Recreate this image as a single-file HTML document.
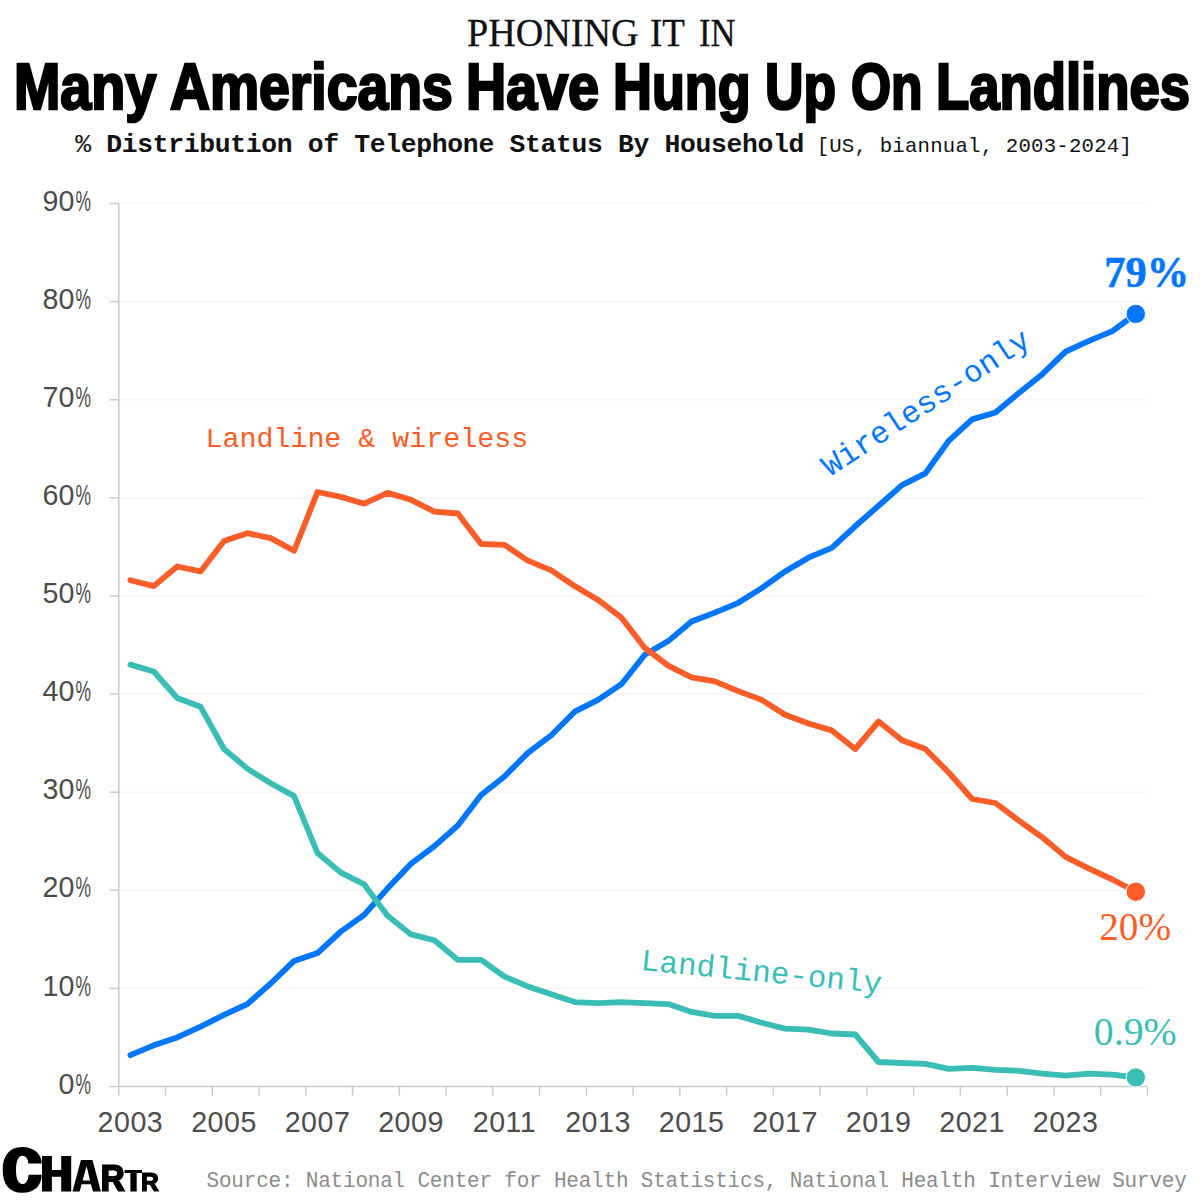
<!DOCTYPE html>
<html><head><meta charset="utf-8">
<style>
html,body{margin:0;padding:0;background:#fff;}
body{width:1200px;height:1200px;position:relative;overflow:hidden;font-family:"Liberation Sans",sans-serif;}
.kicker span{position:absolute;top:-7.4px;font-family:"Liberation Serif",serif;font-size:39.5px;line-height:80px;color:#111;white-space:nowrap;transform-origin:0 0;-webkit-text-stroke:0.3px #111;}
.title span{position:absolute;top:46.8px;font-family:"Liberation Sans",sans-serif;font-weight:bold;font-size:64px;line-height:80px;color:#000;white-space:nowrap;transform-origin:0 0;-webkit-text-stroke:2.6px #000;}
.sub{position:absolute;left:75.2px;top:129.8px;font-family:"Liberation Mono",monospace;font-size:20.7px;letter-spacing:0.2px;line-height:30px;color:#111;white-space:nowrap;}
.sub b{font-size:26.4px;letter-spacing:-0.33px;}
.src{position:absolute;left:206.5px;top:1167.4px;font-family:"Liberation Mono",monospace;font-size:21px;line-height:30px;color:#8c8c8c;white-space:nowrap;letter-spacing:-0.195px;transform-origin:0 22px;transform:scaleY(1.09);}
svg{position:absolute;left:0;top:0;}
.ax{font-family:"Liberation Sans",sans-serif;font-size:28.6px;fill:#4c4c4c;}
.mono{font-family:"Liberation Mono",monospace;font-size:28.3px;}
.ser{font-family:"Liberation Serif",serif;}
</style></head><body>
<div class="kicker"><span style="left:467.03px;transform:scaleX(0.9657)">PHONING</span> <span style="left:650.31px;transform:scaleX(0.9375)">IT</span> <span style="left:699.12px;transform:scaleX(0.875)">IN</span></div>
<div class="title"><span style="left:14.09px;transform:scaleX(0.8698)">Many</span> <span style="left:170.4px;transform:scaleX(0.8638)">Americans</span> <span style="left:466.39px;transform:scaleX(0.8698)">Have</span> <span style="left:613.47px;transform:scaleX(0.8418)">Hung</span> <span style="left:764.5px;transform:scaleX(0.8321)">Up</span> <span style="left:850.8px;transform:scaleX(0.8047)">On</span> <span style="left:936.45px;transform:scaleX(0.8503)">Landlines</span></div>
<div class="sub"><b><span style="font-weight:normal">%</span> Distribution of Telephone Status By Household</b> [US, biannual, 2003-2024]</div>
<svg width="1200" height="1200" viewBox="0 0 1200 1200">
<line x1="109.75" y1="1086.50" x2="118.75" y2="1086.50" stroke="#cacaca" stroke-width="1.5"/>
<line x1="118.75" y1="988.39" x2="1147.5" y2="988.39" stroke="#f5f5f5" stroke-width="1.3"/>
<line x1="109.75" y1="988.39" x2="118.75" y2="988.39" stroke="#cacaca" stroke-width="1.5"/>
<line x1="118.75" y1="890.28" x2="1147.5" y2="890.28" stroke="#f5f5f5" stroke-width="1.3"/>
<line x1="109.75" y1="890.28" x2="118.75" y2="890.28" stroke="#cacaca" stroke-width="1.5"/>
<line x1="118.75" y1="792.17" x2="1147.5" y2="792.17" stroke="#f5f5f5" stroke-width="1.3"/>
<line x1="109.75" y1="792.17" x2="118.75" y2="792.17" stroke="#cacaca" stroke-width="1.5"/>
<line x1="118.75" y1="694.06" x2="1147.5" y2="694.06" stroke="#f5f5f5" stroke-width="1.3"/>
<line x1="109.75" y1="694.06" x2="118.75" y2="694.06" stroke="#cacaca" stroke-width="1.5"/>
<line x1="118.75" y1="595.95" x2="1147.5" y2="595.95" stroke="#f5f5f5" stroke-width="1.3"/>
<line x1="109.75" y1="595.95" x2="118.75" y2="595.95" stroke="#cacaca" stroke-width="1.5"/>
<line x1="118.75" y1="497.84" x2="1147.5" y2="497.84" stroke="#f5f5f5" stroke-width="1.3"/>
<line x1="109.75" y1="497.84" x2="118.75" y2="497.84" stroke="#cacaca" stroke-width="1.5"/>
<line x1="118.75" y1="399.73" x2="1147.5" y2="399.73" stroke="#f5f5f5" stroke-width="1.3"/>
<line x1="109.75" y1="399.73" x2="118.75" y2="399.73" stroke="#cacaca" stroke-width="1.5"/>
<line x1="118.75" y1="301.62" x2="1147.5" y2="301.62" stroke="#f5f5f5" stroke-width="1.3"/>
<line x1="109.75" y1="301.62" x2="118.75" y2="301.62" stroke="#cacaca" stroke-width="1.5"/>
<line x1="118.75" y1="203.51" x2="1147.5" y2="203.51" stroke="#f5f5f5" stroke-width="1.3"/>
<line x1="109.75" y1="203.51" x2="118.75" y2="203.51" stroke="#cacaca" stroke-width="1.5"/>

<line x1="118.75" y1="203.51" x2="118.75" y2="1086.5" stroke="#cacaca" stroke-width="1.5"/>
<line x1="118.75" y1="1086.5" x2="1147.5" y2="1086.5" stroke="#cacaca" stroke-width="1.5"/>
<line x1="118.75" y1="1086.5" x2="118.75" y2="1095.5" stroke="#cacaca" stroke-width="1.5"/>
<line x1="165.51" y1="1086.5" x2="165.51" y2="1095.5" stroke="#cacaca" stroke-width="1.5"/>
<line x1="212.27" y1="1086.5" x2="212.27" y2="1095.5" stroke="#cacaca" stroke-width="1.5"/>
<line x1="259.03" y1="1086.5" x2="259.03" y2="1095.5" stroke="#cacaca" stroke-width="1.5"/>
<line x1="305.79" y1="1086.5" x2="305.79" y2="1095.5" stroke="#cacaca" stroke-width="1.5"/>
<line x1="352.55" y1="1086.5" x2="352.55" y2="1095.5" stroke="#cacaca" stroke-width="1.5"/>
<line x1="399.31" y1="1086.5" x2="399.31" y2="1095.5" stroke="#cacaca" stroke-width="1.5"/>
<line x1="446.07" y1="1086.5" x2="446.07" y2="1095.5" stroke="#cacaca" stroke-width="1.5"/>
<line x1="492.83" y1="1086.5" x2="492.83" y2="1095.5" stroke="#cacaca" stroke-width="1.5"/>
<line x1="539.59" y1="1086.5" x2="539.59" y2="1095.5" stroke="#cacaca" stroke-width="1.5"/>
<line x1="586.35" y1="1086.5" x2="586.35" y2="1095.5" stroke="#cacaca" stroke-width="1.5"/>
<line x1="633.11" y1="1086.5" x2="633.11" y2="1095.5" stroke="#cacaca" stroke-width="1.5"/>
<line x1="679.87" y1="1086.5" x2="679.87" y2="1095.5" stroke="#cacaca" stroke-width="1.5"/>
<line x1="726.63" y1="1086.5" x2="726.63" y2="1095.5" stroke="#cacaca" stroke-width="1.5"/>
<line x1="773.39" y1="1086.5" x2="773.39" y2="1095.5" stroke="#cacaca" stroke-width="1.5"/>
<line x1="820.15" y1="1086.5" x2="820.15" y2="1095.5" stroke="#cacaca" stroke-width="1.5"/>
<line x1="866.91" y1="1086.5" x2="866.91" y2="1095.5" stroke="#cacaca" stroke-width="1.5"/>
<line x1="913.67" y1="1086.5" x2="913.67" y2="1095.5" stroke="#cacaca" stroke-width="1.5"/>
<line x1="960.43" y1="1086.5" x2="960.43" y2="1095.5" stroke="#cacaca" stroke-width="1.5"/>
<line x1="1007.19" y1="1086.5" x2="1007.19" y2="1095.5" stroke="#cacaca" stroke-width="1.5"/>
<line x1="1053.95" y1="1086.5" x2="1053.95" y2="1095.5" stroke="#cacaca" stroke-width="1.5"/>
<line x1="1100.71" y1="1086.5" x2="1100.71" y2="1095.5" stroke="#cacaca" stroke-width="1.5"/>
<line x1="1147.47" y1="1086.5" x2="1147.47" y2="1095.5" stroke="#cacaca" stroke-width="1.5"/>

<text x="74.4" y="1093.6" text-anchor="end" class="ax">0</text><text transform="translate(75.6,1093.6) scale(0.61,1)" class="ax">%</text>
<text x="74.4" y="995.5" text-anchor="end" class="ax">10</text><text transform="translate(75.6,995.5) scale(0.61,1)" class="ax">%</text>
<text x="74.4" y="897.4" text-anchor="end" class="ax">20</text><text transform="translate(75.6,897.4) scale(0.61,1)" class="ax">%</text>
<text x="74.4" y="799.3" text-anchor="end" class="ax">30</text><text transform="translate(75.6,799.3) scale(0.61,1)" class="ax">%</text>
<text x="74.4" y="701.2" text-anchor="end" class="ax">40</text><text transform="translate(75.6,701.2) scale(0.61,1)" class="ax">%</text>
<text x="74.4" y="603.1" text-anchor="end" class="ax">50</text><text transform="translate(75.6,603.1) scale(0.61,1)" class="ax">%</text>
<text x="74.4" y="504.9" text-anchor="end" class="ax">60</text><text transform="translate(75.6,504.9) scale(0.61,1)" class="ax">%</text>
<text x="74.4" y="406.8" text-anchor="end" class="ax">70</text><text transform="translate(75.6,406.8) scale(0.61,1)" class="ax">%</text>
<text x="74.4" y="308.7" text-anchor="end" class="ax">80</text><text transform="translate(75.6,308.7) scale(0.61,1)" class="ax">%</text>
<text x="74.4" y="210.6" text-anchor="end" class="ax">90</text><text transform="translate(75.6,210.6) scale(0.61,1)" class="ax">%</text>

<text x="130.4" y="1131.8" text-anchor="middle" class="ax" letter-spacing="0.5">2003</text>
<text x="224.0" y="1131.8" text-anchor="middle" class="ax" letter-spacing="0.5">2005</text>
<text x="317.5" y="1131.8" text-anchor="middle" class="ax" letter-spacing="0.5">2007</text>
<text x="411.0" y="1131.8" text-anchor="middle" class="ax" letter-spacing="0.5">2009</text>
<text x="504.5" y="1131.8" text-anchor="middle" class="ax" letter-spacing="0.5">2011</text>
<text x="598.0" y="1131.8" text-anchor="middle" class="ax" letter-spacing="0.5">2013</text>
<text x="691.6" y="1131.8" text-anchor="middle" class="ax" letter-spacing="0.5">2015</text>
<text x="785.1" y="1131.8" text-anchor="middle" class="ax" letter-spacing="0.5">2017</text>
<text x="878.6" y="1131.8" text-anchor="middle" class="ax" letter-spacing="0.5">2019</text>
<text x="972.1" y="1131.8" text-anchor="middle" class="ax" letter-spacing="0.5">2021</text>
<text x="1065.6" y="1131.8" text-anchor="middle" class="ax" letter-spacing="0.5">2023</text>

<polyline points="130.4,1055.1 153.8,1045.3 177.2,1037.4 200.6,1026.7 224.0,1014.9 247.3,1004.1 270.7,983.5 294.1,960.9 317.5,953.1 340.9,931.5 364.2,914.8 387.6,888.3 411.0,863.8 434.4,846.1 457.8,825.5 481.1,795.1 504.5,776.5 527.9,752.9 551.3,735.3 574.7,711.7 598.0,699.9 621.4,684.2 644.8,654.8 668.2,641.1 691.6,621.5 714.9,612.6 738.3,602.8 761.7,588.1 785.1,571.4 808.5,557.7 831.8,547.9 855.2,526.3 878.6,505.7 902.0,485.1 925.4,473.3 948.7,440.9 972.1,419.4 995.5,412.5 1018.9,392.9 1042.3,374.2 1065.6,351.7 1089.0,340.9 1112.4,331.1 1135.8,313.9" fill="none" stroke="#0076ff" stroke-width="5.8" stroke-linejoin="round" stroke-linecap="round"/>
<polyline points="130.4,580.3 153.8,586.1 177.2,566.5 200.6,571.4 224.0,541.0 247.3,533.2 270.7,538.1 294.1,550.8 317.5,492.0 340.9,496.9 364.2,503.7 387.6,492.9 411.0,499.8 434.4,511.6 457.8,513.5 481.1,544.0 504.5,544.9 527.9,560.6 551.3,570.4 574.7,586.1 598.0,599.9 621.4,617.5 644.8,647.9 668.2,665.6 691.6,677.4 714.9,681.3 738.3,691.1 761.7,699.9 785.1,714.7 808.5,723.5 831.8,730.4 855.2,749.0 878.6,721.5 902.0,740.2 925.4,749.0 948.7,772.5 972.1,799.0 995.5,803.0 1018.9,820.6 1042.3,837.3 1065.6,856.9 1089.0,868.7 1112.4,879.5 1135.8,891.7" fill="none" stroke="#fa5d28" stroke-width="5.8" stroke-linejoin="round" stroke-linecap="round"/>
<polyline points="130.4,664.6 153.8,671.5 177.2,698.0 200.6,706.8 224.0,749.0 247.3,768.6 270.7,783.3 294.1,796.1 317.5,853.0 340.9,872.6 364.2,884.4 387.6,915.8 411.0,934.4 434.4,940.3 457.8,959.9 481.1,959.9 504.5,976.6 527.9,986.4 551.3,994.3 574.7,1002.1 598.0,1003.1 621.4,1002.1 644.8,1003.1 668.2,1004.1 691.6,1011.9 714.9,1015.9 738.3,1015.9 761.7,1022.7 785.1,1028.6 808.5,1029.6 831.8,1033.5 855.2,1034.5 878.6,1062.0 902.0,1063.0 925.4,1063.9 948.7,1068.8 972.1,1067.9 995.5,1069.8 1018.9,1070.8 1042.3,1073.7 1065.6,1075.7 1089.0,1073.7 1112.4,1074.7 1135.8,1077.5" fill="none" stroke="#3abdb4" stroke-width="5.8" stroke-linejoin="round" stroke-linecap="round"/>
<circle cx="1135.8" cy="891.7" r="9.7" fill="#fa5d28" stroke="#fff" stroke-width="1"/>
<circle cx="1135.8" cy="1077.5" r="9.7" fill="#3abdb4" stroke="#fff" stroke-width="1"/>
<circle cx="1135.8" cy="313.9" r="9.7" fill="#0076ff" stroke="#fff" stroke-width="1"/>
<text x="205.5" y="447.3" class="mono" fill="#fa5d28">Landline &amp; wireless</text>
<text transform="translate(830,477) rotate(-33.2)" class="mono" style="font-size:31px" fill="#0076ff">Wireless-only</text>
<text transform="translate(640.3,970) rotate(5.5)" class="mono" style="font-size:31px" fill="#3abdb4">Landline-only</text>
<text transform="translate(1146.7,287.2) scale(1,1.055)" text-anchor="middle" class="ser" font-size="42.5" font-weight="bold" fill="#0076ff" stroke="#0076ff" stroke-width="0.5">79%</text>
<text x="1135.2" y="940" text-anchor="middle" class="ser" font-size="39.2" fill="#fa5d28">20%</text>
<text x="1135.3" y="1044.5" text-anchor="middle" class="ser" font-size="39.8" fill="#3abdb4">0.9%</text>
<g fill="#000" stroke="#000" stroke-linejoin="miter">
<path fill-rule="evenodd" d="M22.2,1147 C35,1147 41.7,1155 41.7,1163.4 L28.4,1163.4 C28,1158.6 25.6,1155.7 22.4,1155.7 C18.2,1155.7 16,1161.5 16,1169.9 C16,1178.3 18.2,1184 22.4,1184 C25.8,1184 28.2,1180.5 28.6,1174.7 L41.7,1174.7 C41.7,1185 35,1192.8 22.2,1192.8 C9.2,1192.8 2.7,1184 2.7,1169.9 C2.7,1155.8 9.2,1147 22.2,1147 Z" stroke="none"/>
<path d="M42,1156 H51.9 V1170 H61.2 V1156 H71.2 V1191.5 H61.2 V1176.8 H51.9 V1191.5 H42 Z" stroke="none"/>
<path fill-rule="evenodd" d="M72.5,1191.5 L80.9,1160 L92.5,1160 L100.9,1191.5 L92.9,1191.5 L91,1184.3 L81.6,1184.3 L79.7,1191.5 Z M82.6,1180.4 L90,1180.4 L86.7,1166.6 L86.5,1166.6 Z" stroke="none"/>
<path d="M124.6,1170 H142 V1173.1 H136.7 V1191.5 H130.4 V1173.1 H124.6 Z" stroke="none"/>
<path d="M1105 0 778 535H432V0H137V1409H841Q1093 1409 1230 1300Q1367 1192 1367 989Q1367 841 1283 734Q1199 626 1056 592L1437 0ZM1070 977Q1070 1180 810 1180H432V764H818Q942 764 1006 820Q1070 876 1070 977Z" transform="matrix(0.01615,0,0,-0.01774,100.74,1190.55)" stroke-width="1.9" vector-effect="non-scaling-stroke"/>
<path d="M1105 0 778 535H432V0H137V1409H841Q1093 1409 1230 1300Q1367 1192 1367 989Q1367 841 1283 734Q1199 626 1056 592L1437 0ZM1070 977Q1070 1180 810 1180H432V764H818Q942 764 1006 820Q1070 876 1070 977Z" transform="matrix(0.01200,0,0,-0.01249,141.01,1190.85)" stroke-width="1.3" vector-effect="non-scaling-stroke"/>
</g>
</svg>
<div class="src">Source: National Center for Health Statistics, National Health Interview Survey</div>

</body></html>
